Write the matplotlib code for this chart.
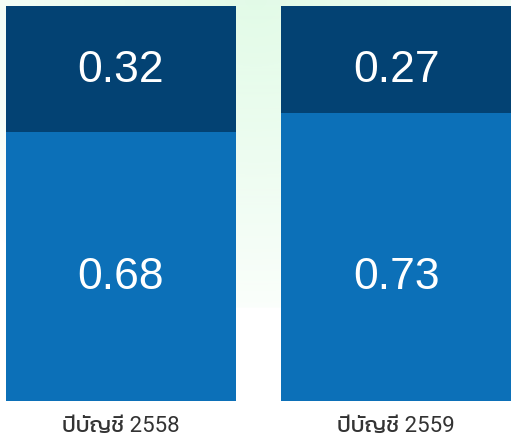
import matplotlib
matplotlib.use("Agg")
import matplotlib.pyplot as plt
import numpy as np

# data
years = ["ปีบัญชี 2558", "ปีบัญชี 2559"]
lower = [0.68, 0.73]
upper = [0.32, 0.27]

c_lower = "#0c70b8"
c_upper = "#034273"
num_font = ["Liberation Sans", "DejaVu Sans"]
lab_font = ["Roboto", "Kanit", "DejaVu Sans"]

fig = plt.figure(figsize=(5.11, 4.44), dpi=100)

# soft green glow behind the bars
bg = fig.add_axes([0, 0, 1, 1], zorder=0)
h, w = 444, 511
yy, xx = np.mgrid[0:h, 0:w]
d = np.sqrt(((xx - w / 2) / 360.0) ** 2 + (yy / 340.0) ** 2)
a = np.clip(1 - d, 0, 1) ** 0.8
a[yy > 307] = 0
img = np.zeros((h, w, 4))
img[..., 0] = 215 / 255
img[..., 1] = 250 / 255
img[..., 2] = 222 / 255
img[..., 3] = a * 0.72
bg.imshow(img, aspect="auto", interpolation="bilinear")
bg.axis("off")

ax = fig.add_axes([6 / 511, 43 / 444, 505 / 511, 395 / 444], zorder=1)
ax.patch.set_alpha(0)
x = np.arange(len(years))
wd = 230 / 276
ax.bar(x, lower, width=wd, color=c_lower)
ax.bar(x, upper, width=wd, bottom=lower, color=c_upper)
# value labels sit at the same height in both bars
for i in range(len(years)):
    ax.text(x[i], 0.2835, "%.2f" % lower[i], ha="center", va="baseline",
            color="white", fontsize=32, family=num_font, transform=ax.get_xaxis_transform())
    ax.text(x[i], 0.8076, "%.2f" % upper[i], ha="center", va="baseline",
            color="white", fontsize=32, family=num_font, transform=ax.get_xaxis_transform())
ax.set_xlim(-wd / 2, 1 + wd / 2)
ax.set_ylim(0, 1)
ax.set_xticks(x)
ax.set_xticklabels(years, family=lab_font, fontsize=16, color="#333333", fontweight="normal")
ax.tick_params(length=0, pad=11)
ax.set_yticks([])
for s in ax.spines.values():
    s.set_visible(False)

fig.savefig("out.png")
